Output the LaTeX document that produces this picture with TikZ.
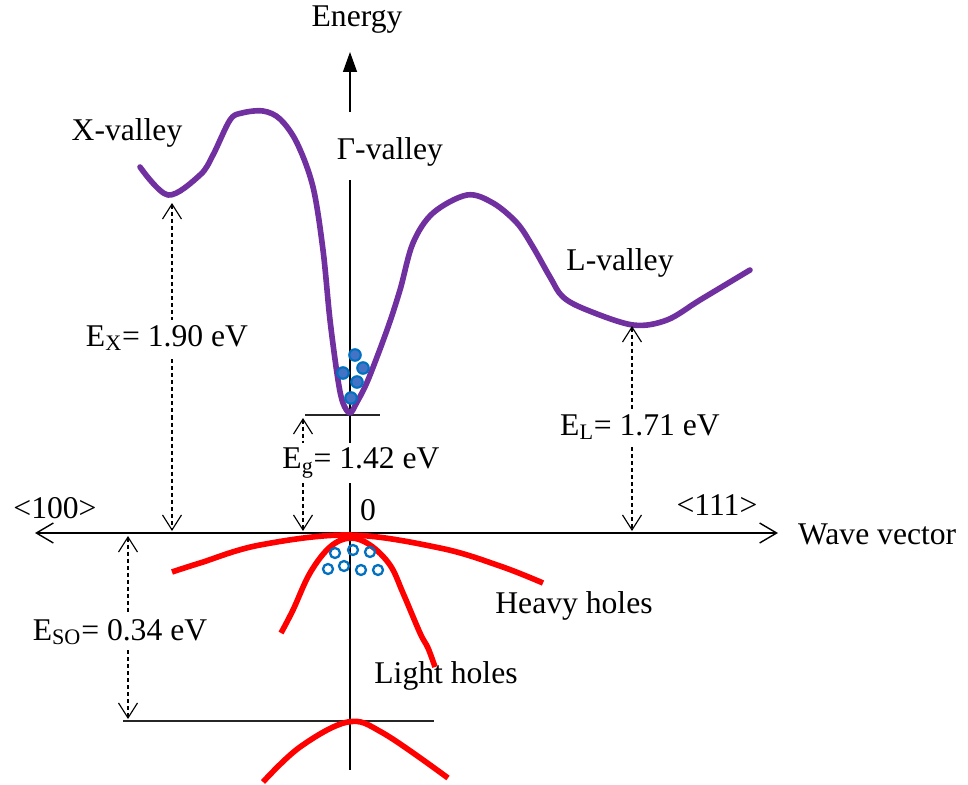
\documentclass[tikz,border=0pt]{standalone}
\usepackage{fontspec}
\setmainfont{Liberation Serif}
\usepackage{xcolor}
\usetikzlibrary{arrows.meta}
\definecolor{bandpurple}{HTML}{7030A0}
\definecolor{bandred}{HTML}{FF0000}
\definecolor{carrierblue}{HTML}{0070C0}
\definecolor{electronfill}{HTML}{4472C4}

\begin{document}
\begin{tikzpicture}[x=0.02cm, y=-0.02cm,
    lbl/.style={font=\fontsize{18}{21}\selectfont, inner sep=1pt},
    gaplbl/.style={lbl, fill=white, inner sep=3pt},
    axis/.style={line width=0.8pt},
    kaxis/.style={axis, {Straight Barb[length=3.4mm,width=4mm]}-{Straight Barb[length=3.4mm,width=4mm]}},
    gaparr/.style={dash pattern=on 2.3pt off 1.7pt, line width=0.65pt, {Straight Barb[length=3mm,width=3.8mm]}-{Straight Barb[length=3mm,width=3.8mm]}},
    level/.style={line width=0.6pt, black!85},
    cband/.style={bandpurple, line width=3.2pt, line cap=round, line join=round},
    vband/.style={bandred, line width=3.2pt},
    electron/.style={circle, draw=carrierblue, fill=electronfill, line width=1.2pt, inner sep=0pt, minimum size=0.23cm},
    hole/.style={circle, draw=carrierblue, line width=1.3pt, inner sep=0pt, minimum size=0.2cm}
]
\useasboundingbox (0,0) rectangle (968,785);

% axes and reference levels
\coordinate (eBot) at (350,112);
\coordinate (eTop) at (350,52);
\coordinate (axTop) at (350,180);
\coordinate (axBot) at (350,770);
\coordinate (kL) at (35,533);
\coordinate (kR) at (778,533);
\coordinate (gL) at (305,415);
\coordinate (gR) at (380,415);
\coordinate (soL) at (123,721);
\coordinate (soR) at (434,721);
\draw[axis, -{Triangle[length=4mm,width=2.8mm]}] (eBot) -- (eTop);
\draw[axis] (axTop) -- (axBot);
\draw[kaxis] (kL) -- (kR);
\draw[level] (gL) -- (gR);
\draw[level] (soL) -- (soR);

% conduction band
\draw[cband] plot[smooth, tension=0.55] coordinates {(140,167) (168,195) (200,175) (213,155) (230,120) (242,113) (263,111) (280,119) (297,143) (313,187) (323,250) (330,320) (338,380) (343,403) (350,413) (357,402) (368,380) (387,330) (400,290) (413,243) (433,213) (467,195) (493,203) (517,223) (533,247) (550,277) (563,297) (587,310) (633,325) (667,320) (700,300) (750,270)};

% valence bands
\draw[vband] plot[smooth, tension=0.6] coordinates {(172,572) (200,563) (260,545) (350,535) (440,548) (500,566) (543,583)};
\draw[vband] plot[smooth, tension=0.6] coordinates {(281,633) (293,610) (310,573) (330,547) (350,538) (370,545) (390,565) (403,593) (420,633) (428,648) (435,667)};
\draw[vband] plot[smooth, tension=0.6] coordinates {(263,782) (300,747) (348,722) (383,733) (448,778)};

% carriers
\node[electron] (e1) at (355,355) {};
\node[electron] (e2) at (343,373) {};
\node[electron] (e3) at (363,368) {};
\node[electron] (e4) at (357,382) {};
\node[electron] (e5) at (351,398) {};
\node[hole] (h1) at (335,553) {};
\node[hole] (h2) at (353,550) {};
\node[hole] (h3) at (370,552) {};
\node[hole] (h4) at (328,569) {};
\node[hole] (h5) at (344,566) {};
\node[hole] (h6) at (361,570) {};
\node[hole] (h7) at (378,570) {};

% energy gaps
\coordinate (xTop) at (172,203);
\coordinate (xBot) at (172,531);
\coordinate (lTop) at (632,326);
\coordinate (lBot) at (632,531);
\coordinate (gTop) at (303,418);
\coordinate (gBot) at (303,531);
\coordinate (soTop) at (128,536);
\coordinate (soBot) at (128,719);
\draw[gaparr] (xTop) -- (xBot);
\draw[gaparr] (lTop) -- (lBot);
\draw[gaparr] (gTop) -- (gBot);
\draw[gaparr] (soTop) -- (soBot);
\node[gaplbl] (ex) at (167,338) {E\textsubscript{X}= 1.90 eV};
\node[gaplbl] (el) at (640,427) {E\textsubscript{L}= 1.71 eV};
\node[gaplbl] (eg) at (361,463) {E\textsubscript{g}= 1.42 eV};
\node[gaplbl] (eso) at (120,632) {E\textsubscript{SO}= 0.34 eV};

% labels
\node[lbl] (energy) at (357,20) {Energy};
\node[lbl] (xval) at (127,133) {X-valley};
\node[lbl] (gval) at (390,152) {Γ-valley};
\node[lbl] (lval) at (620,263) {L-valley};
\node[lbl] (dir100) at (55,508) {<100>};
\node[lbl] (zero) at (368,510) {0};
\node[lbl] (dir111) at (717,505) {<111>};
\node[lbl, anchor=west] (wave) at (796,534) {Wave vector};
\node[lbl] (heavy) at (574,606) {Heavy holes};
\node[lbl] (light) at (446,676) {Light holes};
\end{tikzpicture}
\end{document}
